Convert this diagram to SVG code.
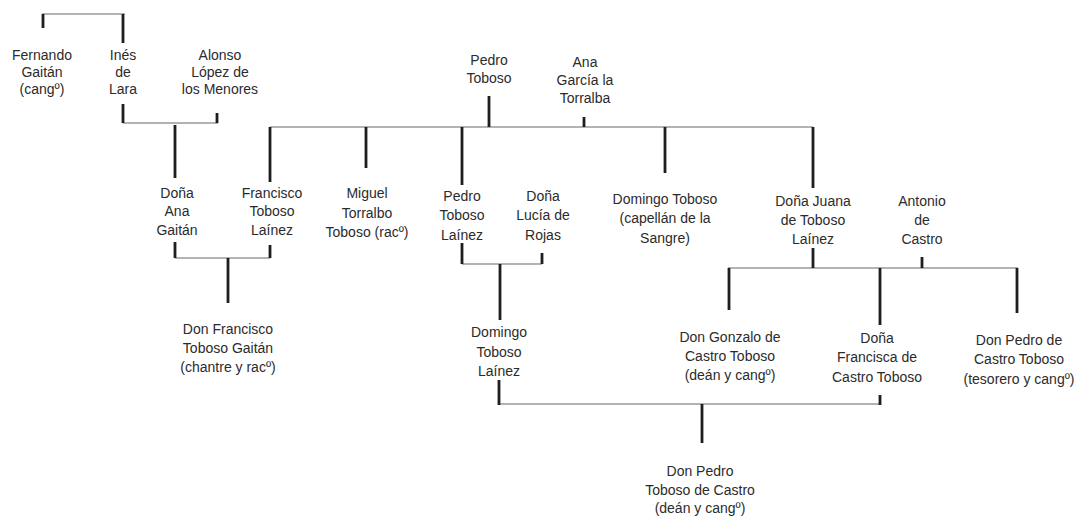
<svg xmlns="http://www.w3.org/2000/svg" width="1080" height="517" viewBox="0 0 1080 517">
<style>
text{font-family:"Liberation Sans",Arial,sans-serif;font-size:14px;fill:#2b2b2b;text-anchor:middle}
.h{stroke:#9a9a9a;stroke-width:1.4;fill:none}
.v{stroke:#1e1e1e;stroke-width:2.8;fill:none}
</style>
<rect width="1080" height="517" fill="#ffffff"/>
<g id="connectors">
<path class="h" d="M42 14H125M123 123H218M270 127H813M175 258H270M462 264H542M728 268H1018M499 404H880"/>
<path class="v" d="M43 14V28M123 14V43M123 104V123M217 113V123M175 125V178M489 96V127M584 117V127M270 127V182M366 127V168M462 127V185M665 127V173M813 127V188M175 242V258M270 245V258M228 258V303M462 243V264M542 253V264M500 264V320M813 248V268M922 257V268M729 268V310M880 268V325M1017 268V313M499 380V405M880 395V405M702 404V443"/>
</g>
<g id="fernando"><text x="42" y="60">Fernando</text><text x="42" y="77">Gaitán</text><text x="42" y="94">(cangº)</text></g>
<g id="ines"><text x="123" y="60">Inés</text><text x="123" y="77">de</text><text x="123" y="94">Lara</text></g>
<g id="alonso"><text x="220" y="60">Alonso</text><text x="220" y="77">López de</text><text x="220" y="94">los Menores</text></g>
<g id="pedro-toboso"><text x="489" y="65">Pedro</text><text x="489" y="83">Toboso</text></g>
<g id="ana-garcia"><text x="585" y="67">Ana</text><text x="585" y="85">García la</text><text x="585" y="103">Torralba</text></g>
<g id="dona-ana"><text x="177" y="198">Doña</text><text x="177" y="216">Ana</text><text x="177" y="235">Gaitán</text></g>
<g id="francisco"><text x="272" y="198">Francisco</text><text x="272" y="216">Toboso</text><text x="272" y="235">Laínez</text></g>
<g id="miguel"><text x="367" y="198">Miguel</text><text x="367" y="218">Torralbo</text><text x="367" y="237">Toboso (racº)</text></g>
<g id="pedro-tl"><text x="462" y="201">Pedro</text><text x="462" y="220">Toboso</text><text x="462" y="240">Laínez</text></g>
<g id="lucia"><text x="543" y="201">Doña</text><text x="543" y="220">Lucía de</text><text x="543" y="240">Rojas</text></g>
<g id="domingo-capellan"><text x="665" y="204">Domingo Toboso</text><text x="665" y="223">(capellán de la</text><text x="665" y="243">Sangre)</text></g>
<g id="juana"><text x="813" y="206">Doña Juana</text><text x="813" y="225">de Toboso</text><text x="813" y="244">Laínez</text></g>
<g id="antonio"><text x="922" y="206">Antonio</text><text x="922" y="225">de</text><text x="922" y="244">Castro</text></g>
<g id="don-francisco"><text x="228" y="334">Don Francisco</text><text x="228" y="353">Toboso Gaitán</text><text x="228" y="372">(chantre y racº)</text></g>
<g id="domingo-tl"><text x="499" y="337">Domingo</text><text x="499" y="357">Toboso</text><text x="499" y="376">Laínez</text></g>
<g id="gonzalo"><text x="730" y="342">Don Gonzalo de</text><text x="730" y="361">Castro Toboso</text><text x="730" y="380">(deán y cangº)</text></g>
<g id="francisca"><text x="877" y="343">Doña</text><text x="877" y="362">Francisca de</text><text x="877" y="382">Castro Toboso</text></g>
<g id="pedro-castro"><text x="1019" y="345">Don Pedro de</text><text x="1019" y="364">Castro Toboso</text><text x="1019" y="384">(tesorero y cangº)</text></g>
<g id="don-pedro"><text x="700" y="476">Don Pedro</text><text x="700" y="495">Toboso de Castro</text><text x="700" y="513">(deán y cangº)</text></g>
</svg>
